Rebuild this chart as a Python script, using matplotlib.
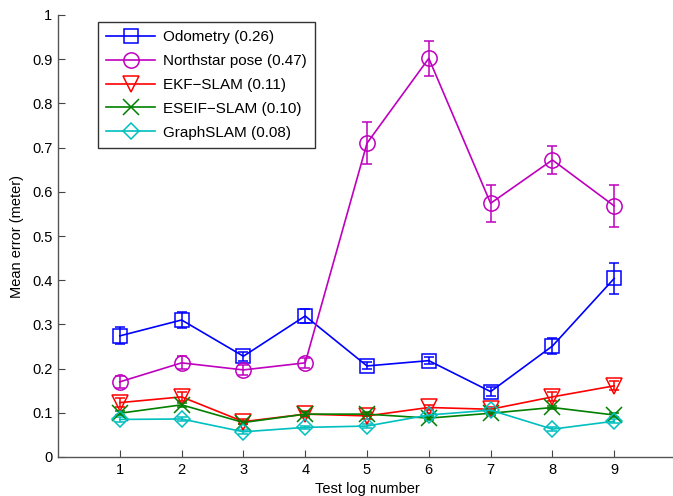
import matplotlib
matplotlib.use("Agg")
import matplotlib.pyplot as plt
import numpy as np
from matplotlib.container import ErrorbarContainer

plt.rcParams['font.family'] = ['Liberation Sans', 'DejaVu Sans']

test_logs = [1, 2, 3, 4, 5, 6, 7, 8, 9]

odometry = [0.274, 0.310, 0.228, 0.319, 0.206, 0.218, 0.148, 0.251, 0.404]
odometry_err = [0.019, 0.019, 0.010, 0.016, 0.008, 0.008, 0.011, 0.019, 0.035]

northstar = [0.170, 0.213, 0.197, 0.213, 0.710, 0.902, 0.574, 0.672, 0.568]
northstar_err = [0.013, 0.015, 0.012, 0.012, 0.047, 0.039, 0.042, 0.032, 0.047]

ekf = [0.123, 0.136, 0.080, 0.097, 0.093, 0.112, 0.108, 0.136, 0.161]
ekf_err = [0.010, 0.010, 0.006, 0.006, 0.006, 0.006, 0.006, 0.010, 0.010]

eseif = [0.099, 0.118, 0.078, 0.097, 0.097, 0.088, 0.099, 0.112, 0.095]
eseif_err = [0.005, 0.005, 0.004, 0.004, 0.004, 0.004, 0.004, 0.004, 0.004]

graphslam = [0.085, 0.086, 0.057, 0.067, 0.070, 0.095, 0.106, 0.063, 0.081]
graphslam_err = [0.005, 0.005, 0.004, 0.004, 0.004, 0.004, 0.004, 0.004, 0.004]

labels = ['Odometry (0.26)', 'Northstar pose (0.47)', 'EKF\u2212SLAM (0.11)',
          'ESEIF\u2212SLAM (0.10)', 'GraphSLAM (0.08)']

W, H = 673, 496
fig = plt.figure(figsize=(W / 100, H / 100), dpi=100)
ax = fig.add_axes([58 / W, 1 - 457 / H, (676 - 58) / W, (457 - 15) / H])

series = [
    (odometry, odometry_err, '#0000ff', 's', 10),
    (northstar, northstar_err, '#bf00bf', 'o', 11),
    (ekf, ekf_err, '#ff0000', 'v', 11),
    (eseif, eseif_err, '#008000', 'x', 12),
    (graphslam, graphslam_err, '#00bfbf', 'D', 8),
]

for (vals, errs, col, mk, ms), lab in zip(series, labels):
    ax.errorbar(test_logs, vals, yerr=errs, color=col, marker=mk, ms=ms,
                mfc='none', mec=col, mew=1.1, lw=1.2, capsize=3.5,
                elinewidth=1.1, capthick=1.1, label=lab)

ax.set_xlim(0, 10)
ax.set_ylim(0, 1)
ax.set_xticks(test_logs)
ax.set_yticks(np.arange(0, 1.01, 0.1))
ax.set_yticklabels(['0', '0.1', '0.2', '0.3', '0.4', '0.5', '0.6', '0.7', '0.8', '0.9', '1'])
ax.tick_params(direction='in', length=5, width=0.8, labelsize=10.5, color='#444444', pad=4)
for s in ['top', 'right']:
    ax.spines[s].set_visible(False)
for s in ['left', 'bottom']:
    ax.spines[s].set_color('#555555')
    ax.spines[s].set_linewidth(1.0)

ax.set_xlabel('Test log number', fontsize=10.5, labelpad=4)
ax.set_ylabel('Mean error (meter)', fontsize=10.5, labelpad=6)

handles, lbls = ax.get_legend_handles_labels()
handles = [h[0] if isinstance(h, ErrorbarContainer) else h for h in handles]
leg = ax.legend(handles, lbls, loc='upper left', bbox_to_anchor=(98 / W, 1 - 22 / H),
                bbox_transform=fig.transFigure, fontsize=11, handlelength=3.2,
                frameon=True, fancybox=False, edgecolor='black', borderpad=0.55,
                labelspacing=0.64, handletextpad=0.5, borderaxespad=0)
leg.get_frame().set_linewidth(1.0)

fig.savefig('out.png', dpi=100)
